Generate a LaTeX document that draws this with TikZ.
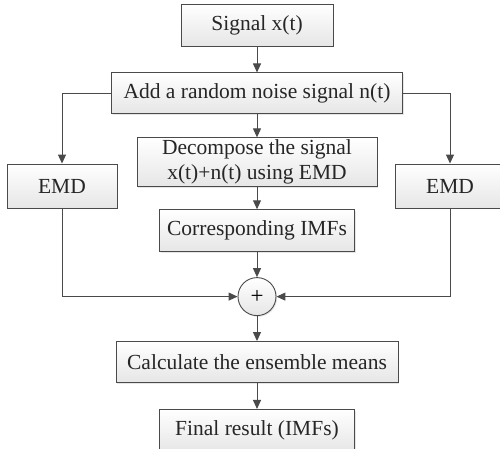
\documentclass[tikz,border=0pt]{standalone}
\usepackage{fontspec}
\setmainfont{Liberation Serif}
\usetikzlibrary{positioning,arrows.meta,shadows}
\usepackage{xcolor}
\definecolor{linegray}{HTML}{4A4A4A}
\definecolor{boxgray}{HTML}{E6E6E6}

\begin{document}
\begin{tikzpicture}[
    x=1pt, y=1pt,
    node distance=25pt,
    box/.style={draw=linegray, line width=0.9pt, top color=white, bottom color=boxgray,
      drop shadow={opacity=0.2, shadow xshift=1.2pt, shadow yshift=-1.2pt},
      minimum height=42pt, inner sep=2pt, align=center, text=black!85,
      font=\fontsize{21.5}{25}\selectfont},
    sumnode/.style={draw=linegray, line width=0.9pt, circle, top color=white, bottom color=boxgray,
      drop shadow={opacity=0.2, shadow xshift=1.2pt, shadow yshift=-1.2pt},
      minimum size=38pt, inner sep=0pt, font=\fontsize{23}{23}\selectfont},
    conn/.style={->, draw=linegray, line width=1pt},
    >={Triangle[length=9pt,width=8pt]}
  ]
  \useasboundingbox (0,0) rectangle (500,-449);

  % Nodes
  \node[box, minimum width=152pt] (sig) at (257,-25) {Signal x(t)};
  \node[box, minimum width=291pt, minimum height=41pt, below=26pt of sig] (add) {Add a random noise signal n(t)};
  \node[box, minimum width=240pt, minimum height=49pt, below=23pt of add] (dec) {Decompose the signal\\x(t)+n(t) using EMD};
  \node[box, minimum width=110pt, minimum height=44pt] (emdl) at (62,-186) {EMD};
  \node[box, minimum width=110pt, minimum height=44pt] (emdr) at (450,-186) {EMD};
  \node[box, minimum width=195pt, below=22pt of dec] (imf) {Corresponding IMFs};
  \node[sumnode, below=25pt of imf] (sum) {+};
  \node[box, minimum width=282pt, minimum height=41pt, below=25pt of sum] (calc) {Calculate the ensemble means};
  \node[box, minimum width=195pt, below=26pt of calc] (fin) {Final result (IMFs)};

  % Arrows
  \draw[conn] (sig) -- (add);
  \draw[conn] (add) -- (dec);
  \draw[conn] (dec) -- (imf);
  \draw[conn] (imf) -- (sum);
  \draw[conn] (sum) -- (calc);
  \draw[conn] (calc) -- (fin);
  \draw[conn] (add.west) -| (emdl.north);
  \draw[conn] (add.east) -| (emdr.north);
  \draw[conn] (emdl.south) |- (sum.west);
  \draw[conn] (emdr.south) |- (sum.east);
\end{tikzpicture}
\end{document}
